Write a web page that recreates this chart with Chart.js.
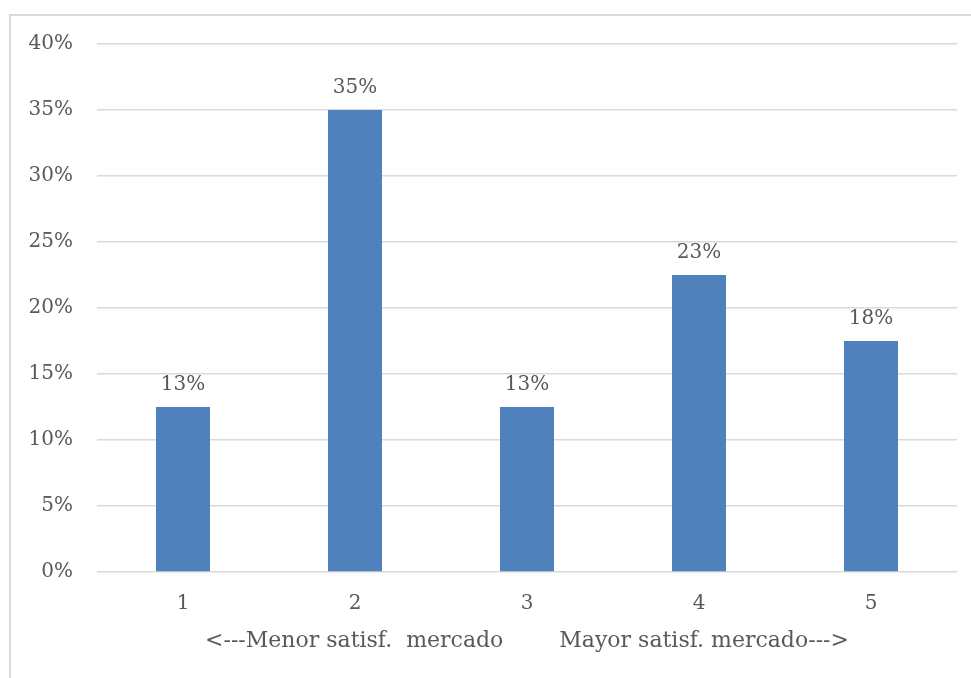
<!DOCTYPE html>
<html>
<head>
<meta charset="utf-8">
<script src="https://cdn.jsdelivr.net/npm/chart.js@4/dist/chart.umd.min.js"></script>
<style>
  html, body { margin: 0; padding: 0; background: #fff; }
  #frame { position: absolute; left: 9px; top: 14px; width: 980px; height: 700px;
           border-left: 2px solid #d9d9d9; border-top: 2px solid #d9d9d9; }
  #wrap { position: absolute; left: 0; top: 0; width: 971px; height: 678px; }
</style>
</head>
<body>
<div id="frame"></div>
<div id="wrap"><canvas id="c" width="971" height="678"></canvas></div>
<script>
const categories = ['1', '2', '3', '4', '5'];
const values = [12.5, 35, 12.5, 22.5, 17.5];
const yTicks = [0, 5, 10, 15, 20, 25, 30, 35, 40];
const axisTitle = '<---Menor satisf.  mercado        Mayor satisf. mercado--->';

const FONT = 'DejaVu Serif';
const FS = 20;
const TITLE_FS = 22;
const TXT = '#595959';

const labelPlugin = {
  id: 'barLabels',
  afterDatasetsDraw(chart) {
    const ctx = chart.ctx;
    const meta = chart.getDatasetMeta(0);
    ctx.save();
    ctx.font = FS + 'px "' + FONT + '"';
    ctx.fillStyle = TXT;
    ctx.textAlign = 'center';
    ctx.textBaseline = 'alphabetic';
    meta.data.forEach((bar, i) => {
      ctx.fillText(Math.round(values[i]) + '%', bar.x, bar.y - 17);
    });
    ctx.restore();
  }
};

new Chart(document.getElementById('c'), {
  type: 'bar',
  data: {
    labels: categories,
    datasets: [{
      data: values,
      backgroundColor: '#4f81bd',
      borderWidth: 0,
      barPercentage: 0.314,
      categoryPercentage: 1.0
    }]
  },
  options: {
    responsive: false,
    animation: false,
    events: [],
    layout: { padding: { top: 44, right: 14, bottom: 0, left: 0 } },
    plugins: { legend: { display: false }, tooltip: { enabled: false } },
    scales: {
      x: {
        grid: { display: false, drawTicks: false },
        border: { display: false },
        ticks: { color: TXT, font: { family: FONT, size: FS }, padding: 20 },
        title: { display: true, text: axisTitle, color: TXT,
                 font: { family: FONT, size: TITLE_FS }, padding: { top: 0, bottom: 24 } },
        afterFit(scale) { scale.height = 106; }
      },
      y: {
        min: 0, max: 40,
        afterBuildTicks(scale) { scale.ticks = yTicks.map(v => ({ value: v })); },
        grid: { color: '#d9d9d9', lineWidth: 1.5, drawTicks: false },
        border: { display: false },
        ticks: { color: TXT, font: { family: FONT, size: FS }, padding: 24,
                 callback: v => v + '%' },
        afterFit(scale) { scale.width = 97; }
      }
    }
  },
  plugins: [labelPlugin]
});
</script>
</body>
</html>
